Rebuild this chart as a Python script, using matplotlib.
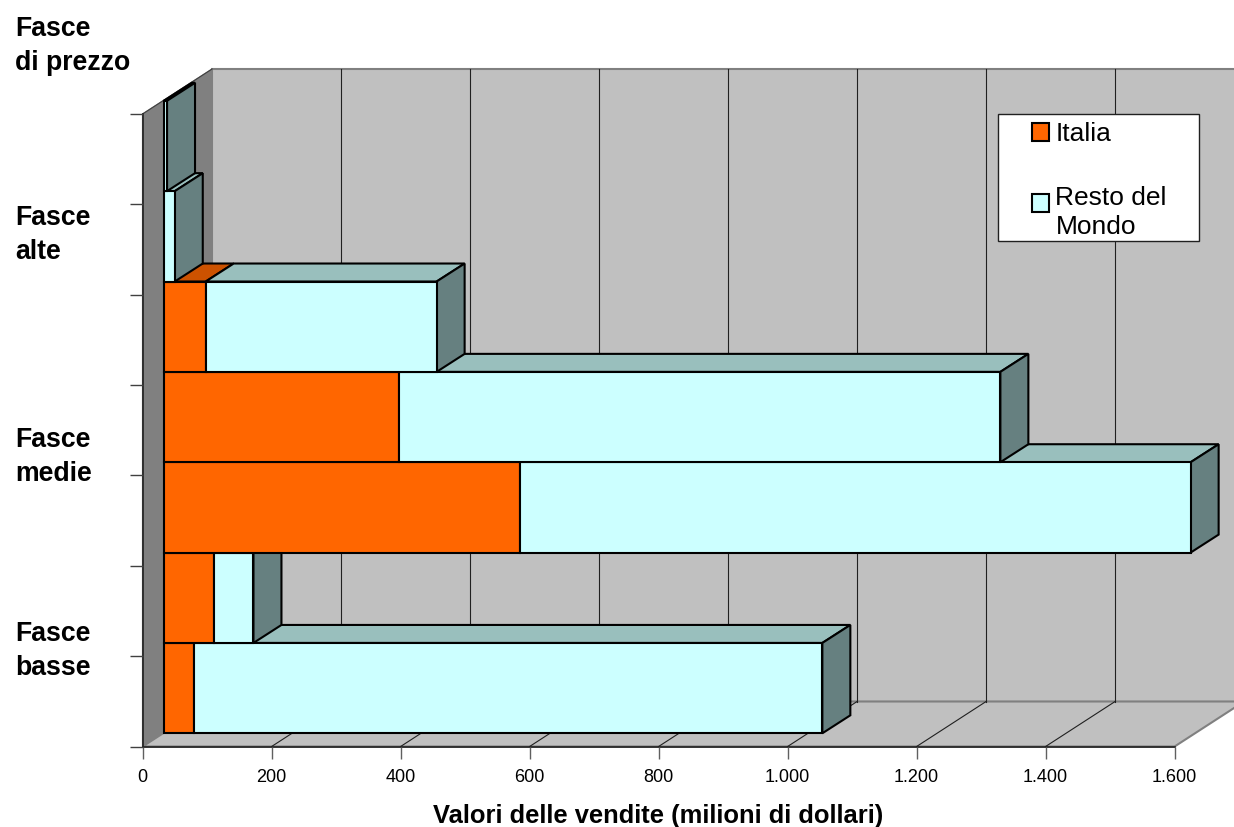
import matplotlib
matplotlib.use("Agg")
import matplotlib.pyplot as plt
from matplotlib.patches import Rectangle, Patch
from matplotlib.legend_handler import HandlerPatch

# ---- data (bottom band to top band) ----
italia = [47, 78, 552, 365, 65, 0, 0]
resto = [974, 61, 1040, 932, 358, 17, 5]
xticks = [0, 200, 400, 600, 800, 1000, 1200, 1400, 1600]
xticklabels = ["0", "200", "400", "600", "800", "1.000", "1.200", "1.400", "1.600"]
groups = ["Fasce\nbasse", "Fasce\nmedie", "Fasce\nalte", "Fasce\ndi prezzo"]
group_y = [651, 457, 235, 46]
series_names = ["Italia", "Resto del\nMondo"]
xlabel = "Valori delle vendite (milioni di dollari)"

# ---- style ----
W, H = 1234, 827
FONT = "Liberation Sans"
ORANGE, CYAN = "#FF6600", "#CCFFFF"
ORANGE_TOP, CYAN_TOP = "#CC5200", "#99BFBD"
SIDE, WALL, SIDEWALL = "#668080", "#C0C0C0", "#808080"
plt.rcParams["font.family"] = [FONT, "DejaVu Sans"]

fig = plt.figure(figsize=(W / 100, H / 100), dpi=100)
L, R, T, B = 142.6, 1174.6, 114, 746.5
ax = fig.add_axes([L / W, 1 - B / H, (R - L) / W, (B - T) / H])
ax.set_xlim(0, 1600)
ax.set_ylim(0, 7)
ax.patch.set_visible(False)

px = 1600 / (R - L)          # data units per pixel in x
py = 7 / (B - T)             # data units per pixel in y
DX, DY = 69.5 * px, 45 * py      # full depth of the plot box
OX, OY = 21.2 * px, 13.2 * py    # front of the bars
BX, BY = 28 * px, 18 * py        # depth of the bars
LW = 1.5


def poly(xs, ys, face, edge="black", lw=LW, z=1):
    ax.fill(xs, ys, facecolor=face, edgecolor=edge, linewidth=lw, clip_on=False,
            zorder=z, joinstyle="miter")


# walls and floor
poly([DX, 1600 + DX, 1600 + DX, DX], [DY, DY, 7 + DY, 7 + DY], WALL, SIDEWALL, 1.5, 1)
poly([0, DX, DX, 0], [0, DY, 7 + DY, 7], SIDEWALL, SIDEWALL, 1, 1.1)
poly([0, 1600, 1600 + DX, DX], [0, 0, DY, DY], WALL, SIDEWALL, 1.5, 1.1)
for t in xticks[1:]:
    ax.plot([t + DX, t + DX], [DY, 7 + DY], color="#202020", lw=0.8, clip_on=False, zorder=1.2)
    if t < 1600:
        ax.plot([t, t + DX], [0, DY], color="#202020", lw=0.8, clip_on=False, zorder=1.2)
ax.plot([0, DX], [7, 7 + DY], color="#404040", lw=0.8, clip_on=False, zorder=1.3)

# bars, bottom to top so that each front face hides the top of the one below
z = 2
for i, (a, b) in enumerate(zip(italia, resto)):
    x0 = OX
    x1 = OX + a
    x2 = x1 + b
    y0 = i + OY
    y1 = y0 + 1
    if a > 0:
        poly([x0, x1, x1 + BX, x0 + BX], [y1, y1, y1 + BY, y1 + BY], ORANGE_TOP, z=z)
    poly([x1, x2, x2 + BX, x1 + BX], [y1, y1, y1 + BY, y1 + BY], CYAN_TOP, z=z)
    poly([x2, x2 + BX, x2 + BX, x2], [y0, y0 + BY, y1 + BY, y1], SIDE, z=z)
    if a > 0:
        ax.barh(y0 + 0.5, a, left=x0, height=1, color=ORANGE, edgecolor="black",
                linewidth=LW, clip_on=False, zorder=z + 0.1)
    ax.barh(y0 + 0.5, b, left=x1, height=1, color=CYAN, edgecolor="black",
            linewidth=LW, clip_on=False, zorder=z + 0.1)
    z += 1

# axes
for s in ("top", "right"):
    ax.spines[s].set_visible(False)
for s in ("left", "bottom"):
    ax.spines[s].set_color("#202020")
    ax.spines[s].set_linewidth(1.2)
    ax.spines[s].set_zorder(1.5)
ax.set_xticks(xticks)
ax.set_xticklabels(xticklabels, fontsize=13)
ax.set_yticks(range(8))
ax.set_yticklabels([])
ax.tick_params(axis="x", length=8.5, width=1, color="#606060", pad=8)
ax.tick_params(axis="y", length=9.5, width=1, color="#404040")
ax.set_xlabel(xlabel, fontsize=18.4, fontweight="bold", labelpad=12.5)

for g, gy in zip(groups, group_y):
    fig.text(15 / W, 1 - gy / H, g, fontsize=19.2, fontweight="bold",
             ha="left", va="center", linespacing=1.4)


# legend
class ShiftedPatch(HandlerPatch):
    """Square legend key raised to sit beside the first text line."""

    def __init__(self, shift):
        super().__init__()
        self.shift = shift

    def adjust_drawing_area(self, legend, orig_handle, xdescent, ydescent,
                            width, height, fontsize):
        xd, yd, w, h = super().adjust_drawing_area(legend, orig_handle, xdescent, ydescent,
                                                   width, height, fontsize)
        return xd, yd - self.shift, w, h


fig.add_artist(Rectangle((998 / W, 1 - 240.5 / H), 201 / W, 126.5 / H, transform=fig.transFigure,
                         facecolor="white", edgecolor="#202020", linewidth=1.0, zorder=5))
handles = [Patch(facecolor=ORANGE, edgecolor="black", linewidth=LW),
           Patch(facecolor=CYAN, edgecolor="black", linewidth=LW)]
leg = fig.legend(handles, series_names, loc="upper left", frameon=False, fontsize=19,
                 bbox_to_anchor=(1032 / W, 1 - 122 / H), borderaxespad=0, borderpad=0,
                 handlelength=0.65, handleheight=0.65, handletextpad=0.24,
                 labelspacing=1.5, handler_map={handles[1]: ShiftedPatch(7)})
leg.set_zorder(6)
leg.get_texts()[1].set_linespacing(1.3)

fig.savefig("out.png", dpi=100)
